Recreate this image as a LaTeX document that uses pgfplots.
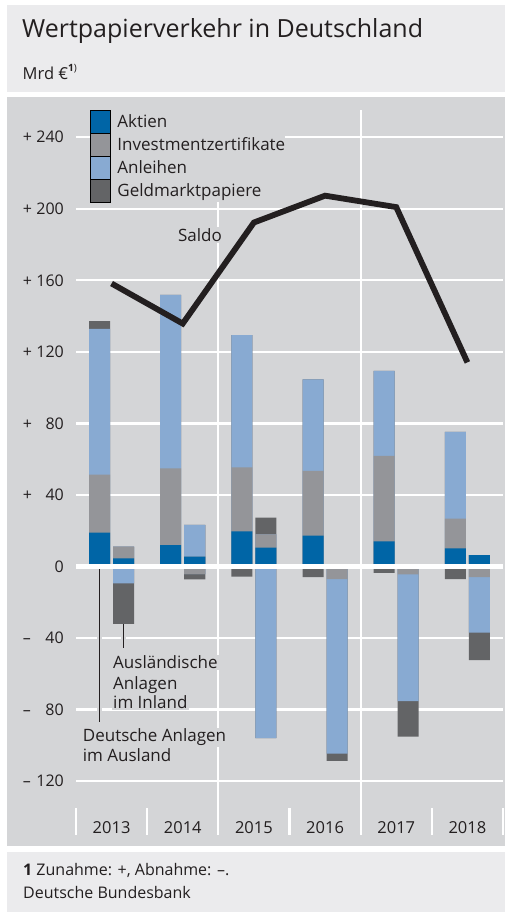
\documentclass[border=0pt]{standalone}
\usepackage{fontspec}
\setmainfont{Open Sans}
\usepackage{pgfplots}
\pgfplotsset{compat=1.18}

\definecolor{kopf}{HTML}{EBEBED}
\definecolor{feld}{HTML}{D4D5D7}
\definecolor{aktien}{HTML}{0065A6}
\definecolor{invest}{HTML}{949599}
\definecolor{anleihen}{HTML}{88AAD2}
\definecolor{geldmarkt}{HTML}{636466}
\definecolor{schrift}{HTML}{231F20}

\newcommand\fs[1]{\fontsize{#1bp}{#1bp}\selectfont}
\newcommand\ytl[2]{\makebox[41bp]{#1\hfill#2}}

\pgfplotsset{
  links/.style={ybar, bar width=21bp, bar shift=-12bp, draw=none, forget plot},
  rechts/.style={ybar, bar width=21bp, bar shift=12bp, draw=none, forget plot},
}

\begin{document}
\begin{tikzpicture}
% panels
\fill[white] (0bp,0bp) rectangle (512bp,916bp);
\fill[kopf] (7bp,824bp) rectangle (505bp,911bp);
\fill[feld] (7bp,70bp) rectangle (505bp,818.5bp);
\fill[kopf] (7bp,4bp) rectangle (505bp,64bp);

\node[anchor=base west, inner sep=0pt, text=schrift, font=\fs{25}] at (22bp,878bp) {Wertpapierverkehr in Deutschland};
\node[anchor=base west, inner sep=0pt, text=schrift, font=\fs{16.5}] at (22.5bp,836bp) {Mrd €\raisebox{0.5em}{\fs{10}\textbf{1})}};
\node[anchor=base west, inner sep=0pt, text=schrift, font=\fs{16}] at (23bp,40.3bp) {\textbf{1} Zunahme: +, Abnahme: –.};
\node[anchor=base west, inner sep=0pt, text=schrift, font=\fs{16}] at (23bp,17.7bp) {Deutsche Bundesbank};

\begin{axis}[
  at={(76bp,81bp)}, anchor=south west,
  scale only axis, width=427bp, height=725bp,
  xmin=-0.5, xmax=5.5, ymin=-150.1, ymax=255.2,
  clip=false,
  axis line style={draw=none},
  major tick length=0pt,
  xtick={0,1,2,3,4,5},
  xticklabels={2013,2014,2015,2016,2017,2018},
  ytick={-120,-80,-40,0,40,80,120,160,200,240},
  yticklabels={\ytl{–}{120},\ytl{–}{80},\ytl{–}{40},\ytl{}{0},\ytl{+}{40},\ytl{+}{80},\ytl{+}{120},\ytl{+}{160},\ytl{+}{200},\ytl{+}{240}},
  ymajorgrids=true,
  major grid style={white, line width=2.3bp},
  yticklabel style={anchor=east, inner sep=0pt, xshift=-12bp, font=\fs{16}, text=schrift},
  xticklabel style={anchor=base, inner sep=0pt, yshift=1bp, font=\fs{16.5}, text=schrift},
  legend cell align=left,
  legend image code/.code={\fill[#1] (0bp,-11.35bp) rectangle (20bp,11.35bp);},
  legend style={at={(0.0328,1)}, anchor=north west, draw=none, fill=feld,
    inner sep=0pt, outer sep=0pt, row sep=0pt, column sep=7bp,
    font=\fs{17}, text=schrift, nodes={inner sep=0pt, text=schrift}},
]
% vertical separators
\draw[white, line width=2.3bp] (axis cs:1.5,-150.1) -- (axis cs:1.5,255.2);
\draw[white, line width=2.3bp] (axis cs:3.5,-150.1) -- (axis cs:3.5,255.2);
\draw[white, line width=2.2bp] (axis cs:-0.5,-135) -- (axis cs:-0.5,-150.1);
\draw[white, line width=2.2bp] (axis cs:0.5,-135) -- (axis cs:0.5,-150.1);
\draw[white, line width=2.2bp] (axis cs:2.5,-135) -- (axis cs:2.5,-150.1);
\draw[white, line width=2.2bp] (axis cs:4.5,-135) -- (axis cs:4.5,-150.1);
\draw[white, line width=2.2bp] (axis cs:5.5,-135) -- (axis cs:5.5,-150.1);

% Deutsche Anlagen im Ausland (left bars), cumulative boundaries
\addplot[links, fill=geldmarkt] coordinates {(0,137.2)(1,151.8)(2,129.3)(3,104.6)(4,109.3)(5,75.2)};
\addplot[links, fill=anleihen]  coordinates {(0,132.8)(1,151.8)(2,129.3)(3,104.6)(4,109.3)(5,75.2)};
\addplot[links, fill=invest]    coordinates {(0,51.3)(1,54.9)(2,55.4)(3,53.4)(4,61.9)(5,26.7)};
\addplot[links, fill=aktien]    coordinates {(0,18.9)(1,12.0)(2,19.7)(3,17.2)(4,14.1)(5,10.2)};
\addplot[links, fill=geldmarkt] coordinates {(0,0)(1,0)(2,-5.7)(3,-6.0)(4,-3.5)(5,-7.0)};

% Auslaendische Anlagen im Inland (right bars), cumulative boundaries
\addplot[rechts, fill=geldmarkt] coordinates {(0,11.1)(1,23.2)(2,27.3)(3,0)(4,0)(5,6.4)};
\addplot[rechts, fill=anleihen]  coordinates {(0,11.1)(1,23.2)(2,18.0)(3,0)(4,0)(5,6.4)};
\addplot[rechts, fill=invest]    coordinates {(0,11.1)(1,5.5)(2,18.0)(3,0)(4,0)(5,6.4)};
\addplot[rechts, fill=aktien]    coordinates {(0,4.6)(1,5.5)(2,10.5)(3,0)(4,0)(5,6.4)};
\addplot[rechts, fill=geldmarkt] coordinates {(0,-32.1)(1,-7.2)(2,-96.0)(3,-108.7)(4,-95.1)(5,-52.3)};
\addplot[rechts, fill=anleihen]  coordinates {(0,-9.4)(1,-4.2)(2,-96.0)(3,-104.6)(4,-75.3)(5,-37.0)};
\addplot[rechts, fill=invest]    coordinates {(0,0)(1,-4.2)(2,0)(3,-7.0)(4,-4.4)(5,-5.9)};

% zero line
\draw[white, line width=5bp] (axis cs:-0.5,0) -- (axis cs:5.5,0);

% Saldo
\addplot[schrift, line width=5.8bp, line join=miter, mark=none, forget plot]
  coordinates {(0,158.2)(1,135.8)(2,192.3)(3,207.3)(4,200.9)(5,114.1)};

% leader lines
\draw[schrift, line width=0.9bp, preaction={draw=feld, line width=5bp}]
  ([xshift=-12bp]axis cs:0,-1.6) -- ([xshift=-12bp]axis cs:0,-86.8);
\draw[schrift, line width=0.9bp, preaction={draw=feld, line width=5bp}]
  ([xshift=12bp]axis cs:0,-32.3) -- ([xshift=12bp]axis cs:0,-45.7);

\node[anchor=base, fill=feld, inner sep=1.5bp, font=\fs{17}, text=schrift] at (axis cs:1.242,181.6) {Saldo};
\node[anchor=base west, fill=feld, inner sep=1bp, font=\fs{17}, text=schrift] at (axis cs:0.006,-57.3) {Ausländische};
\node[anchor=base west, fill=feld, inner sep=1bp, font=\fs{17}, text=schrift] at (axis cs:0.006,-68.5) {Anlagen};
\node[anchor=base west, fill=feld, inner sep=1bp, font=\fs{17}, text=schrift] at (axis cs:0.006,-79.6) {im Inland};
\node[anchor=base west, fill=feld, inner sep=1bp, font=\fs{17}, text=schrift] at (axis cs:-0.42,-97.9) {Deutsche Anlagen};
\node[anchor=base west, fill=feld, inner sep=1bp, font=\fs{17}, text=schrift] at (axis cs:-0.42,-109.1) {im Ausland};

\addlegendimage{fill=aktien}
\addlegendentry{Aktien}
\addlegendimage{fill=invest}
\addlegendentry{Investmentzertifikate}
\addlegendimage{fill=anleihen}
\addlegendentry{Anleihen}
\addlegendimage{fill=geldmarkt}
\addlegendentry{Geldmarktpapiere}
\end{axis}
\end{tikzpicture}
\end{document}
